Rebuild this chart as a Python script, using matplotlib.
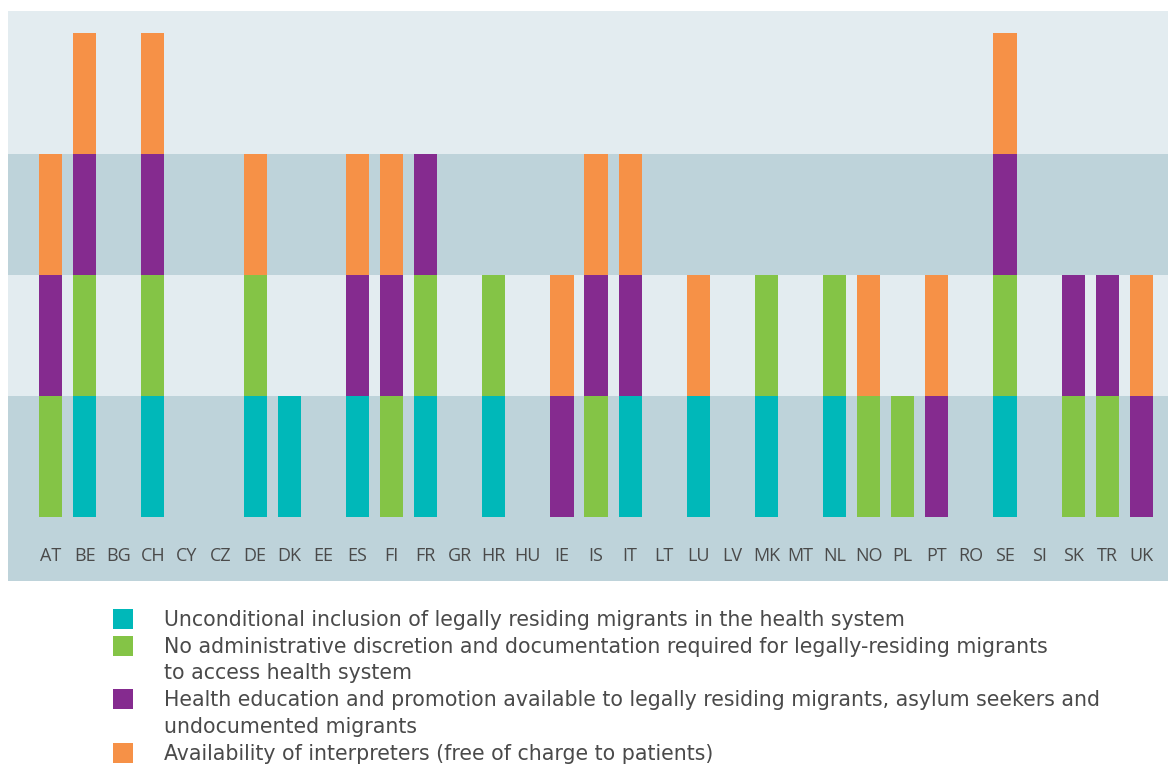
import numpy as np
import matplotlib.pyplot as plt
from matplotlib.patches import Rectangle

countries = ["AT", "BE", "BG", "CH", "CY", "CZ", "DE", "DK", "EE", "ES", "FI",
             "FR", "GR", "HR", "HU", "IE", "IS", "IT", "LT", "LU", "LV", "MK",
             "MT", "NL", "NO", "PL", "PT", "RO", "SE", "SI", "SK", "TR", "UK"]

# 1 = criterion met, 0 = not met (stacked in this order)
inclusion     = [0, 1, 0, 1, 0, 0, 1, 1, 0, 1, 0, 1, 0, 1, 0, 0, 0, 1, 0, 1, 0, 1, 0, 1, 0, 0, 0, 0, 1, 0, 0, 0, 0]
no_discretion = [1, 1, 0, 1, 0, 0, 1, 0, 0, 0, 1, 1, 0, 1, 0, 0, 1, 0, 0, 0, 0, 1, 0, 1, 1, 1, 0, 0, 1, 0, 1, 1, 0]
health_edu    = [1, 1, 0, 1, 0, 0, 0, 0, 0, 1, 1, 1, 0, 0, 0, 1, 1, 1, 0, 0, 0, 0, 0, 0, 0, 0, 1, 0, 1, 0, 1, 1, 1]
interpreters  = [1, 1, 0, 1, 0, 0, 1, 0, 0, 1, 1, 0, 0, 0, 0, 1, 1, 1, 0, 1, 0, 0, 0, 0, 1, 0, 1, 0, 1, 0, 0, 0, 1]

series = [inclusion, no_discretion, health_edu, interpreters]
colors = ["#00b8b9", "#84c446", "#852b8f", "#f69147"]
legend_lines = [
    ["Unconditional inclusion of legally residing migrants in the health system"],
    ["No administrative discretion and documentation required for legally-residing migrants",
     "to access health system"],
    ["Health education and promotion available to legally residing migrants, asylum seekers and",
     "undocumented migrants"],
    ["Availability of interpreters (free of charge to patients)"],
]

plt.rcParams['font.family'] = ['Open Sans', 'DejaVu Sans']
text_color = "#4a4a4a"
light_bg = "#e3ecf0"
dark_bg = "#bed3da"

fig = plt.figure(figsize=(11.68, 7.64), dpi=100)
ax = fig.add_axes([8 / 1168, 183 / 764, 1160 / 1168, 570 / 764])

x = np.arange(len(countries))
y_bottom, y_top = -0.53, 4.18

# alternating background bands
band_edges = [y_bottom, 1, 2, 3, y_top]
for i in range(4):
    ax.axhspan(band_edges[i], band_edges[i + 1],
               color=dark_bg if i % 2 == 0 else light_bg, lw=0, zorder=0)

bottom = np.zeros(len(countries))
for vals, c in zip(series, colors):
    vals = np.array(vals)
    ax.bar(x, vals, bottom=bottom, width=0.68, color=c, lw=0, zorder=2)
    bottom += vals

for xi, name in zip(x, countries):
    ax.text(xi, -0.32, name, ha='center', va='center', fontsize=13,
            color=text_color)

ax.set_xlim(-1.25, len(countries) - 0.22)
ax.set_ylim(y_bottom, y_top)
ax.axis('off')

# legend drawn manually below the chart
line_h = 26.7
row = 0
for lines, c in zip(legend_lines, colors):
    y0 = 619 + row * line_h
    fig.patches.append(Rectangle((113 / 1168, 1 - (y0 + 10) / 764), 20 / 1168, 20 / 764,
                                 transform=fig.transFigure, color=c, lw=0))
    for j, line in enumerate(lines):
        yl = 620 + (row + j) * line_h
        fig.text(164 / 1168, 1 - yl / 764, line, ha='left', va='center',
                 fontsize=14.8, color=text_color, family='DejaVu Sans')
    row += len(lines)

fig.savefig("out.png", dpi=100)
